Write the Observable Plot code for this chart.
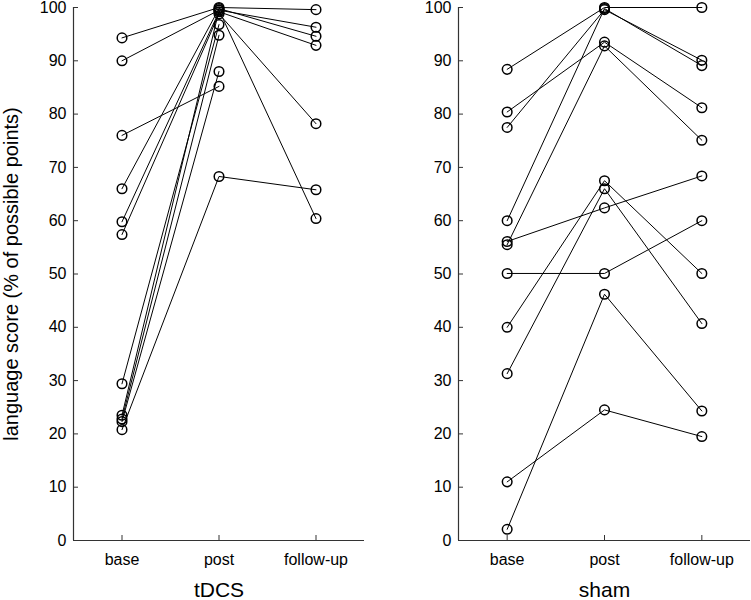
<!DOCTYPE html>
<html><head><meta charset="utf-8">
<script src="https://cdn.jsdelivr.net/npm/d3@7"></script>
<script src="https://cdn.jsdelivr.net/npm/@observablehq/plot@0.6"></script>
<style>
body{margin:0;background:#fff;}
#chart{display:flex;width:751px;height:600px;}
#chart svg{overflow:visible;}
</style></head><body><div id="chart"></div>
<script>
const phases = ["base", "post", "follow-up"];
const groups = ["tDCS", "sham"];
const yLabel = "language score (% of possible points)";
const yTicks = [0, 10, 20, 30, 40, 50, 60, 70, 80, 90, 100];

// tDCS group, one entry per participant (null = no follow-up)
const tdcsBase   = [94.3, 90.0, 76.0, 66.0, 59.8, 57.4, 29.4, 23.5, 22.8, 22.3, 20.8];
const tdcsPost   = [100.0, 99.5, 85.2, 99.8, 99.2, 98.8, 96.8, 99.5, 94.8, 88.0, 68.3];
const tdcsFollow = [99.6, 96.3, null, 94.6, 92.9, 78.2, null, 60.4, null, null, 65.8];

// sham group
const shamBase   = [88.4, 77.5, 60.0, 80.4, 55.5, 40.0, 31.3, 56.1, 50.1, 2.1, 11.0];
const shamPost   = [100.0, 99.6, 99.8, 93.5, 92.8, 67.5, 66.0, 62.4, 50.1, 46.2, 24.5];
const shamFollow = [100.0, 90.1, 89.1, 81.2, 75.1, 50.1, 40.7, 68.4, 60.0, 24.3, 19.5];

function rows(base, post, follow) {
  const out = [];
  base.forEach((b, i) => {
    [b, post[i], follow[i]].forEach((v, j) => {
      if (v != null) out.push({id: i, phase: j, value: v});
    });
  });
  return out;
}

const font = "'Liberation Sans', Arial, Helvetica, sans-serif";

function panel(data, title, opts) {
  return Plot.plot({
    width: opts.width, height: 600,
    marginLeft: opts.marginLeft, marginRight: opts.marginRight,
    marginTop: 7, marginBottom: 60,
    style: {fontFamily: font, fontSize: "16px", color: "#000", background: "#fff", overflow: "visible"},
    x: {type: "linear", domain: [-0.5, 2.5]},
    y: {domain: [0, 100]},
    marks: [
      Plot.ruleY([0], {stroke: "#333", strokeWidth: 1.2}),
      Plot.ruleX([-0.5], {stroke: "#333", strokeWidth: 1.2}),
      Plot.axisX({ticks: [0, 1, 2], tickFormat: i => phases[i], tickSize: -5, tickPadding: 18, label: null, fontSize: 16, stroke: "#333"}),
      Plot.axisY({ticks: yTicks, tickSize: -5, tickPadding: 12, label: null, fontSize: 16, stroke: "#333"}),
      Plot.text([title], {frameAnchor: "bottom", lineAnchor: "middle", dy: 50, fontSize: 21}),
      opts.showLabel ? Plot.text([yLabel], {frameAnchor: "left", textAnchor: "middle", lineAnchor: "middle", rotate: -90, dx: -62, fontSize: 20}) : null,
      Plot.line(data, {x: "phase", y: "value", z: "id", stroke: "#000", strokeWidth: 1}),
      Plot.dot(data, {x: "phase", y: "value", r: 4.8, stroke: "#000", strokeWidth: 1.5, fill: "none"})
    ]
  });
}

const chart = document.getElementById("chart");
chart.append(panel(rows(tdcsBase, tdcsPost, tdcsFollow), groups[0], {width: 375, marginLeft: 73, marginRight: 11, showLabel: true}));
chart.append(panel(rows(shamBase, shamPost, shamFollow), groups[1], {width: 376, marginLeft: 83, marginRight: 1, showLabel: false}));
</script>
</body></html>
